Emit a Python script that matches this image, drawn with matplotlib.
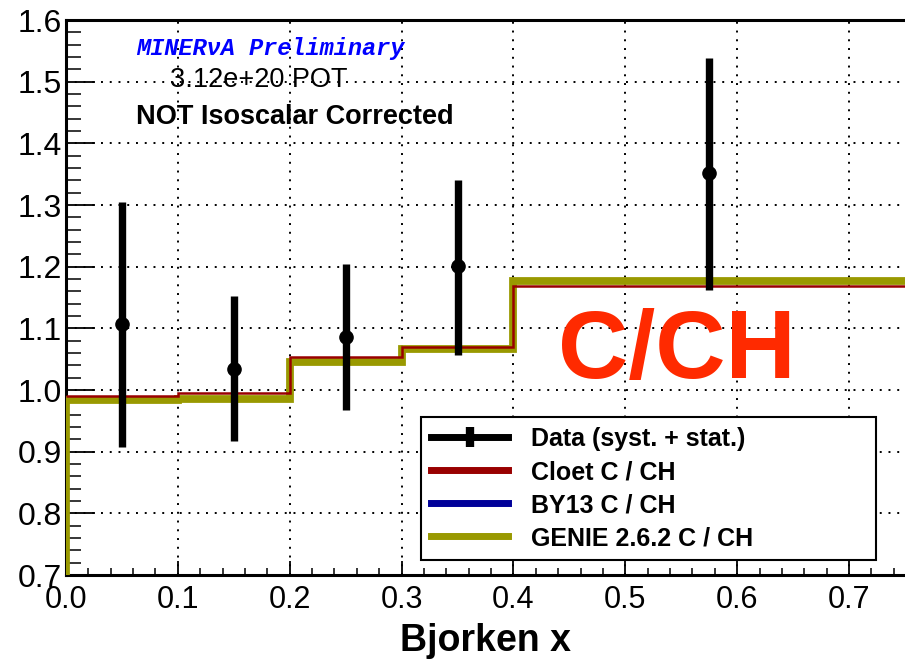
import numpy as np
import matplotlib
matplotlib.use('Agg')
import matplotlib.pyplot as plt
from matplotlib.lines import Line2D

# bins in Bjorken x and the C/CH ratios
bin_edges = [0.0, 0.1, 0.2, 0.3, 0.4, 0.75]
x_centers = [0.05, 0.15, 0.25, 0.35, 0.575]
data_ratio = [1.107, 1.034, 1.086, 1.201, 1.352]
err_low = [0.199, 0.117, 0.118, 0.144, 0.190]
err_high = [0.198, 0.118, 0.118, 0.140, 0.186]

cloet_ratio = [0.991, 0.995, 1.053, 1.069, 1.169]
by13_ratio = [0.985, 0.987, 1.046, 1.066, 1.175]
genie_ratio = [0.984, 0.986, 1.045, 1.066, 1.176]

x_ticks = [0.0, 0.1, 0.2, 0.3, 0.4, 0.5, 0.6, 0.7]
y_ticks = [0.7, 0.8, 0.9, 1.0, 1.1, 1.2, 1.3, 1.4, 1.5, 1.6]

plt.rcParams['font.family'] = ['Liberation Sans', 'DejaVu Sans']

W, H = 905, 663
fig = plt.figure(figsize=(W / 100, H / 100), dpi=100)
ax = fig.add_axes([0.0729, 0.1327, 0.9271, 0.8371])

olive = '#999900'
dark_red = '#990000'
dark_blue = '#000099'
y_floor = 0.7

# histograms: open on the right, dropping to the floor on the left
ax.stairs(by13_ratio, bin_edges, baseline=None, color=dark_blue, linewidth=2.2, zorder=2)
ax.stairs(genie_ratio, bin_edges, baseline=None, color=olive, linewidth=5.6, zorder=3)
ax.vlines(bin_edges[0], y_floor, genie_ratio[0], color=olive, linewidth=5.6, zorder=3)
ax.stairs(cloet_ratio, bin_edges, baseline=None, color=dark_red, linewidth=1.8, zorder=4)

ax.errorbar(x_centers, data_ratio, yerr=[err_low, err_high], fmt='o', color='black',
            markersize=9.5, elinewidth=5.3, capsize=0, zorder=6)

ax.set_xlim(0.0, 0.75)
ax.set_ylim(y_floor, 1.6)
ax.set_xticks(x_ticks)
ax.set_yticks(y_ticks)
ax.set_xticklabels([f'{v:.1f}' for v in x_ticks])
ax.set_yticklabels([f'{v:.1f}' for v in y_ticks])
ax.set_xticks(np.arange(0.0, 0.76, 0.02), minor=True)
ax.set_yticks(np.arange(0.7, 1.601, 0.02), minor=True)

ax.tick_params(axis='both', which='both', direction='in', top=False, right=False, color='black')
ax.tick_params(axis='y', which='major', length=21, width=1.3, labelsize=23, pad=3)
ax.tick_params(axis='y', which='minor', length=11, width=1.1)
ax.tick_params(axis='x', which='major', length=10, width=1.3, labelsize=22, pad=7)
ax.tick_params(axis='x', which='minor', length=5, width=1.1)

ax.grid(True, which='major', color='black', linestyle=(0, (1, 3.5)), linewidth=1.4)

for side in ['left', 'bottom', 'top']:
    ax.spines[side].set_linewidth(2.2)
ax.spines['right'].set_visible(False)

ax.set_xlabel('Bjorken x', fontsize=27, fontweight='bold', labelpad=6)


def pix_text(x, y, s, **kw):
    # place text by pixel position measured from the top-left corner
    fig.text(x / W, 1 - y / H, s, **kw)


pix_text(136, 48, 'MINER\u03bdA Preliminary', fontsize=17, family='Liberation Mono',
         fontweight='bold', fontstyle='italic', color='#0000ff', va='center', ha='left')
pix_text(170, 80, '3.12e+20 POT', fontsize=19.5, va='center', ha='left')
pix_text(136, 117, 'NOT Isoscalar Corrected', fontsize=19.5, fontweight='bold',
         va='center', ha='left')
pix_text(677, 353, 'C/CH', fontsize=70, fontweight='bold', color='#ff2a00',
         va='center', ha='center')

handles = [
    Line2D([], [], color='black', linewidth=5, marker='|', markersize=14, markeredgewidth=6),
    Line2D([], [], color=dark_red, linewidth=5),
    Line2D([], [], color=dark_blue, linewidth=5),
    Line2D([], [], color=olive, linewidth=5),
]
labels = ['Data (syst. + stat.)', 'Cloet C / CH', 'BY13 C / CH', 'GENIE 2.6.2 C / CH']
leg = ax.legend(handles, labels, loc='lower left', bbox_to_anchor=(0.423, 0.027, 0.543, 0.252),
                mode='expand', borderaxespad=0, fancybox=False, framealpha=1,
                edgecolor='black', prop={'weight': 'bold', 'size': 18},
                handlelength=3.1, handletextpad=0.9, borderpad=0.4, labelspacing=0.36)
leg.get_frame().set_linewidth(1.5)
leg.set_zorder(10)

fig.savefig('out.png', dpi=100)
